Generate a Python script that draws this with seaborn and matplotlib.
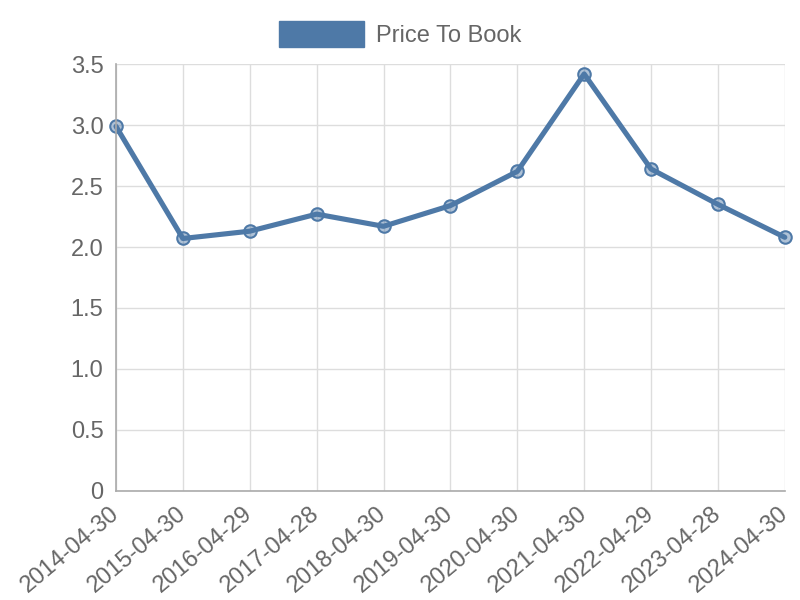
import numpy as np
import pandas as pd
import matplotlib
matplotlib.use("Agg")
import matplotlib.pyplot as plt
import matplotlib.transforms as mtransforms
import seaborn as sns
from matplotlib.patches import Patch

# Data
dates = ["2014-04-30", "2015-04-30", "2016-04-29", "2017-04-28", "2018-04-30",
         "2019-04-30", "2020-04-30", "2021-04-30", "2022-04-29", "2023-04-28",
         "2024-04-30"]
price_to_book = [2.99, 2.07, 2.13, 2.27, 2.17, 2.34, 2.62, 3.42, 2.64, 2.35, 2.08]
y_ticks = [0, 0.5, 1.0, 1.5, 2.0, 2.5, 3.0, 3.5]
y_tick_labels = ["0", "0.5", "1.0", "1.5", "2.0", "2.5", "3.0", "3.5"]

LINE_COLOR = "#4e79a7"
TEXT_COLOR = "#666666"
GRID_COLOR = "#dddddd"

sns.set_style("white")
plt.rcParams["font.family"] = ["Liberation Sans", "DejaVu Sans"]

df = pd.DataFrame({"pos": np.arange(len(dates)), "value": price_to_book})

fig = plt.figure(figsize=(8, 6), dpi=100)
ax = fig.add_axes([0.145, 0.182, 0.836, 0.711])

sns.lineplot(data=df, x="pos", y="value", ax=ax, color=LINE_COLOR, lw=3.7,
             marker="o", markersize=9, markeredgecolor=LINE_COLOR,
             markerfacecolor=(0.306, 0.475, 0.655, 0.45), markeredgewidth=1.5,
             clip_on=False)

ax.set_xlim(0, len(dates) - 1)
ax.set_ylim(0, 3.5)
ax.set_xticks(np.arange(len(dates)))
ax.set_yticks(y_ticks)
ax.set_yticklabels(y_tick_labels)
ax.set_xlabel("")
ax.set_ylabel("")

ax.grid(True, color=GRID_COLOR, linewidth=1)
ax.set_axisbelow(True)
ax.tick_params(axis="both", colors=GRID_COLOR, labelcolor=TEXT_COLOR,
               labelsize=17, length=7, width=1, pad=2)
for side in ["top", "right"]:
    ax.spines[side].set_visible(False)
for side in ["left", "bottom"]:
    ax.spines[side].set_color("#aaaaaa")
    ax.spines[side].set_linewidth(1.2)

ax.set_xticklabels(dates, rotation=40, ha="right", va="top", rotation_mode="anchor")
# nudge the rotated labels so their ends sit right at the ticks
shift = mtransforms.ScaledTranslation(-7 / 100, 1 / 100, fig.dpi_scale_trans)
for lbl in ax.xaxis.get_majorticklabels():
    lbl.set_transform(lbl.get_transform() + shift)

handle = Patch(facecolor=LINE_COLOR, edgecolor=LINE_COLOR)
fig.legend([handle], ["Price To Book"], loc="upper center",
           bbox_to_anchor=(0.5, 1.0), frameon=False, fontsize=17,
           labelcolor=TEXT_COLOR, handlelength=3.6, handleheight=1.3,
           handletextpad=0.5)

fig.savefig("out.png", dpi=100)
